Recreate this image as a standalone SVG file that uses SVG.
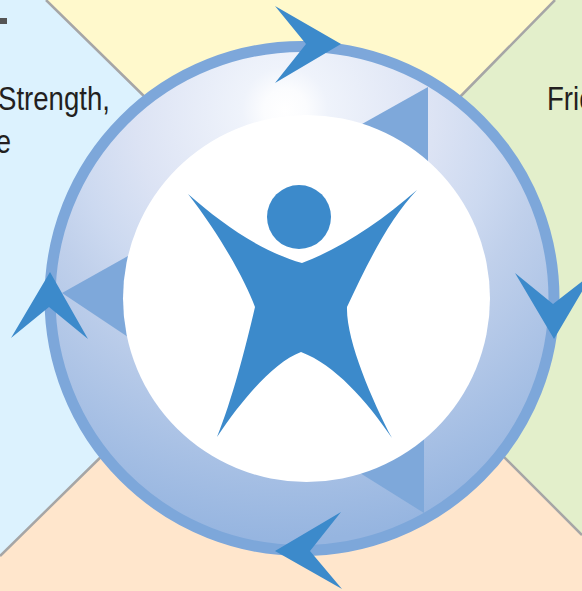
<svg xmlns="http://www.w3.org/2000/svg" width="582" height="591" viewBox="0 0 582 591">
<style>
.quad-line{fill:none;stroke:#a6a6a6;stroke-width:2.5}
.label{font-family:"Liberation Sans",Arial,sans-serif;font-size:33px;fill:#231f20}
.arrow{fill:#3c8acb}
.tri{fill:#7ea8da}
.figure{fill:#3c8acb}
</style>
<defs>
<radialGradient id="disc" gradientUnits="userSpaceOnUse" cx="285" cy="110" r="430">
<stop offset="0" stop-color="#ffffff"/>
<stop offset="0.05" stop-color="#fbfcfe"/>
<stop offset="0.1" stop-color="#eff3fb"/>
<stop offset="0.35" stop-color="#dce3f4"/>
<stop offset="0.5" stop-color="#ccd9f0"/>
<stop offset="0.6" stop-color="#c0d0eb"/>
<stop offset="1" stop-color="#96b5e0"/>
</radialGradient>
</defs>
<g id="background">
<rect width="582" height="591" fill="#dcf2fe"/>
<polygon points="46,0 555,0 455,102 302,298 150,102" fill="#fff9cc"/>
<polygon points="555,0 582,0 582,535 495,448 302,298 455,102" fill="#e3efcb"/>
<polygon points="0,556 110,448 302,298 495,448 582,535 582,591 0,591" fill="#ffe6cc"/>
</g>
<g id="connectors">
<path class="quad-line" d="M46,0L150,102M555,0L455,102M0,556L110,448M582,535L495,448"/>
</g>
<g id="disc-node">
<circle cx="302" cy="298.5" r="252" fill="url(#disc)" stroke="#7da7da" stroke-width="11"/>
<polygon class="tri" points="362,124 428,87 428,165"/>
<polygon class="tri" points="62,293 128,256 128,337"/>
<polygon class="tri" points="360,473 424,438 424,513"/>
<circle cx="306.5" cy="298.5" r="183.5" fill="#fff"/>
</g>
<g id="figure-node">
<circle class="figure" cx="299" cy="217" r="32"/>
<path class="figure" d="M188,194C222,224 262,252 302,263C342,248 380,222 417,190C390,218 368,262 347,307C346,340 372,400 392,438C366,400 335,365 301,352C275,362 245,395 217,437C232,400 245,350 255,307C245,280 220,235 188,194Z"/>
</g>
<g id="arrows">
<polygon class="arrow" points="341,44 275,6 306,44 275,83"/>
<polygon class="arrow" points="275,551 341,512 310,551 342,589"/>
<polygon class="arrow" points="50,272 11,338 49,307 88,339"/>
<polygon class="arrow" points="554,339 515,273 553,304 593,273"/>
</g>
<g id="labels">
<rect x="0" y="18" width="7" height="6" fill="#555"/>
<text class="label" x="-2" y="110" textLength="112" lengthAdjust="spacingAndGlyphs">Strength,</text>
<text class="label" x="-4" y="153" textLength="15" lengthAdjust="spacingAndGlyphs">e</text>
<text class="label" x="547" y="110" textLength="46" lengthAdjust="spacingAndGlyphs">Fric</text>
</g>
</svg>
